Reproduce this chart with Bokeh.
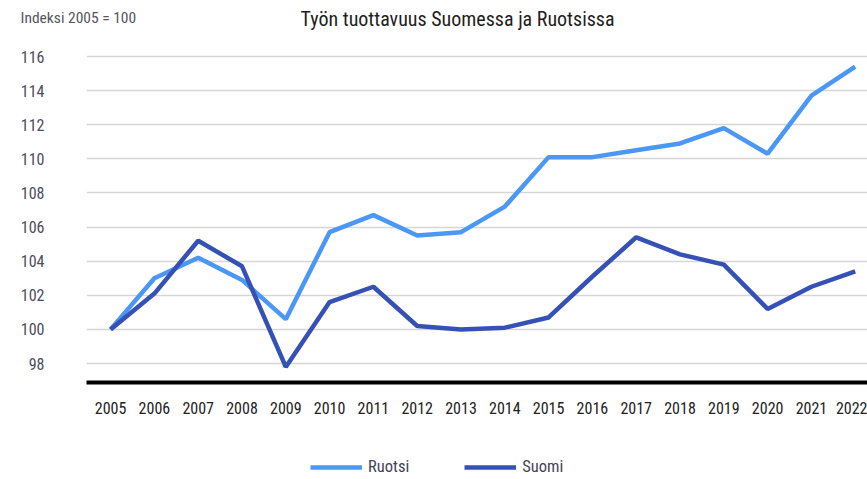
from bokeh.plotting import figure
from bokeh.layouts import column
from bokeh.models import FixedTicker, Range1d, Legend, LegendItem
from bokeh.core.properties import value
from bokeh.embed import file_html
from bokeh.resources import INLINE

years = [2005, 2006, 2007, 2008, 2009, 2010, 2011, 2012, 2013, 2014,
         2015, 2016, 2017, 2018, 2019, 2020, 2021, 2022]
ruotsi = [100.0, 103.0, 104.2, 102.9, 100.6, 105.7, 106.7, 105.5, 105.7, 107.2,
          110.1, 110.1, 110.5, 110.9, 111.8, 110.3, 113.7, 115.4]
suomi = [100.0, 102.1, 105.2, 103.7, 97.8, 101.6, 102.5, 100.2, 100.0, 100.1,
         100.7, 103.1, 105.4, 104.4, 103.8, 101.2, 102.5, 103.4]
y_ticks = [98, 100, 102, 104, 106, 108, 110, 112, 114, 116]
series_names = ["Ruotsi", "Suomi"]

title_text = "Työn tuottavuus Suomessa ja Ruotsissa"
unit_text = "Indeksi 2005 = 100"

FONT = "Roboto Condensed"

c_ruotsi = "#4a97f5"
c_suomi = "#3651b5"
W = 867
FRAME_L = 86


def blank(height, xr, yr):
    fig = figure(width=W, height=height, output_backend="svg", toolbar_location=None,
                 x_range=xr, y_range=yr, x_axis_location=None, y_axis_location=None,
                 min_border_left=FRAME_L, min_border_right=0,
                 min_border_top=0, min_border_bottom=0)
    fig.outline_line_color = None
    fig.grid.visible = False
    return fig


# header with titles (frame is aligned with the main chart's frame)
h = blank(40, Range1d(FRAME_L, W), Range1d(0, 40))
h.text(x=[300], y=[22], text=[title_text], text_font=value(FONT),
       text_font_size="20px", text_color="#1e1e1e", text_baseline="middle")
h.title.text = unit_text
h.title.align = "left"
h.title.offset = 20 - FRAME_L
h.title.text_font = FONT
h.title.text_font_size = "15.5px"
h.title.text_font_style = "normal"
h.title.text_color = "#55555f"
h.title.standoff = -52

# main chart
p = figure(width=W, height=390, output_backend="svg", toolbar_location=None,
           x_range=Range1d(2004.45, 2022.28), y_range=Range1d(96.886, 116.645),
           min_border_left=FRAME_L, min_border_right=0, min_border_top=5,
           min_border_bottom=48)
p.outline_line_color = None

p.line(years, ruotsi, line_color=c_ruotsi, line_width=4.5)
p.line(years, suomi, line_color=c_suomi, line_width=4.5)

p.xgrid.grid_line_color = None
p.ygrid.grid_line_color = "#d6d6d6"
p.ygrid.grid_line_width = 1.6
p.yaxis.ticker = FixedTicker(ticks=y_ticks)
p.xaxis.ticker = FixedTicker(ticks=years)

p.yaxis.axis_line_color = None
p.yaxis.major_tick_line_color = None
p.yaxis.minor_tick_line_color = None
p.yaxis.major_label_text_font = FONT
p.yaxis.major_label_text_font_size = "16px"
p.yaxis.major_label_text_color = "#4d4d5c"
p.yaxis.major_label_standoff = 36

p.xaxis.axis_line_color = "black"
p.xaxis.axis_line_width = 4
p.xaxis.major_tick_line_color = None
p.xaxis.minor_tick_line_color = None
p.xaxis.major_label_text_font = FONT
p.xaxis.major_label_text_font_size = "16px"
p.xaxis.major_label_text_color = "#222222"
p.xaxis.major_label_standoff = 13

# footer with legend (series drawn out of its view; only legend swatches show)
f = blank(49, Range1d(0, 1), Range1d(0, 1))
lr = f.line(years, ruotsi, line_color=c_ruotsi, line_width=4.5)
ls = f.line(years, suomi, line_color=c_suomi, line_width=4.5)
legend = Legend(items=[LegendItem(label=series_names[0], renderers=[lr]),
                       LegendItem(label=series_names[1], renderers=[ls])],
                orientation="horizontal", location=(224, 3),
                label_text_font=FONT, label_text_font_size="16.5px",
                label_text_color="#44445a", glyph_width=52, glyph_height=16,
                label_height=16, padding=4, spacing=55, label_standoff=6,
                border_line_color=None, background_fill_alpha=0)
f.add_layout(legend, "center")

layout = column(h, p, f, spacing=0)
open("out.html", "w").write(file_html(layout, INLINE))
